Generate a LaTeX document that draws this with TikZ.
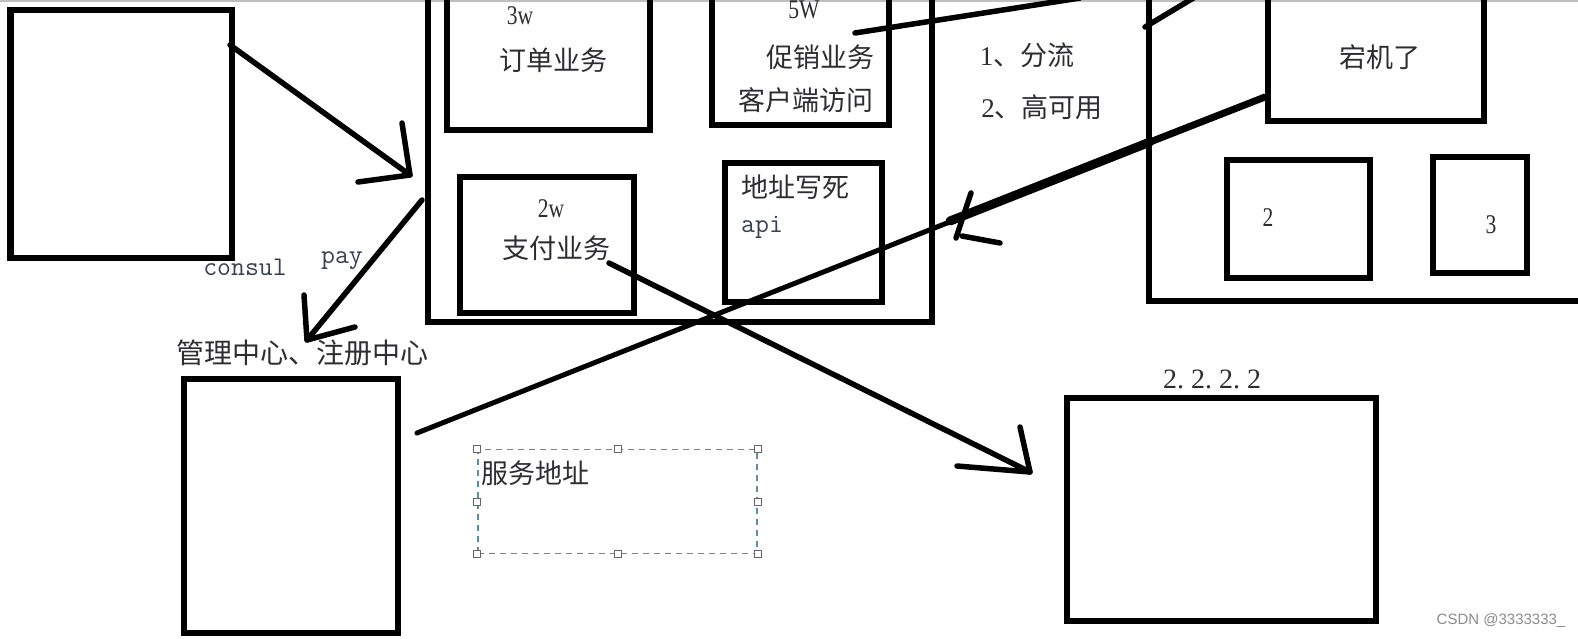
\documentclass[tikz,border=0pt]{standalone}
\usepackage{fontspec}
\setmainfont{Liberation Serif}
\newfontfamily\cjk{Noto Sans CJK SC}
\newfontfamily\wmfont{Liberation Sans}
\newfontfamily\narrowserif[FakeStretch=0.8]{Liberation Serif}
\definecolor{txt}{RGB}{45,45,50}
\definecolor{monotxt}{RGB}{55,65,80}
\definecolor{dashcol}{RGB}{95,140,165}
\begin{document}
\begin{tikzpicture}[x=1pt,y=-1pt,
  box/.style={draw=black, line width=6.5pt, inner sep=0pt, rectangle},
  pen/.style={draw=black, line width=5.5pt, line cap=round, line join=round},
  zh/.style={font=\cjk\fontsize{27}{30}\selectfont, text=txt, inner sep=0pt},
  lat/.style={font=\narrowserif\fontsize{27}{30}\selectfont, text=txt, inner sep=0pt, anchor=base},
  mono/.style={font=\ttfamily\fontsize{27}{30}\selectfont, text=monotxt, inner sep=0pt, anchor=base},
  handle/.style={draw=black!60, fill=white, line width=0.9pt}]
\useasboundingbox (0,0) rectangle (1578,638);
\clip (0,0) rectangle (1578,638);
\fill[white] (0,0) rectangle (1578,638);
\draw[black!25, line width=2pt] (0,1) -- (1578,1);

% boxes
\node[box, minimum width=221.5pt, minimum height=248pt] (boxA) at (121.25,134) {};
\node[box, minimum width=504pt, minimum height=352pt] (cont) at (680,146) {};
\node[box, minimum width=203pt, minimum height=160pt] (order) at (548.5,50) {};
\node[box, minimum width=177pt, minimum height=155pt] (promo) at (800.5,47.5) {};
\node[box, minimum width=174pt, minimum height=136pt] (paybox) at (547,245) {};
\node[box, minimum width=157pt, minimum height=139pt] (addr) at (803.5,232.5) {};
\node[box, minimum width=471pt, minimum height=331pt] (rc) at (1384.5,135.5) {};
\node[box, minimum width=216pt, minimum height=151pt] (down) at (1376,45.5) {};
\node[box, minimum width=143pt, minimum height=118pt] (b2) at (1298.5,219) {};
\node[box, minimum width=94pt, minimum height=116pt] (b3) at (1480,215) {};
\node[box, minimum width=214pt, minimum height=254pt] (mgmt) at (291,506) {};
\node[box, minimum width=309pt, minimum height=223pt] (ip) at (1221.5,509.5) {};
\node[draw=dashcol, dash pattern=on 6pt off 5pt, line width=1.3pt, inner sep=0pt,
      minimum width=279pt, minimum height=104pt] (svc) at (617.5,501.5) {};
\foreach \a in {north west,north,north east,east,south east,south,south west,west}
  \draw[handle] ([shift={(-3.5pt,-3.5pt)}]svc.\a) rectangle ++(7pt,7pt);

% texts
\node[lat] (t3w) at (520,24) {3w};
\node[lat] (t5w) at (804,18) {5W};
\node[zh] (tord) at (553,60) {订单业务};
\node[zh] (tpro) at (820,57) {促销业务};
\node[zh] (tcli) at (806,100) {客户端访问};
\node[lat] (t2w) at (551,217) {2w};
\node[zh] (tpay) at (556,248) {支付业务};
\node[zh, anchor=west] (tadr) at (741,187) {地址写死};
\node[mono, anchor=base west] (tapi) at (741,232) {api};
\node[zh] (tfl) at (1027,55) {{\rmfamily 1}、分流};
\node[zh] (tha) at (1042,107) {{\rmfamily 2}、高可用};
\node[zh] (tdown) at (1380,57) {宕机了};
\node[lat] (t2) at (1268,226) {2};
\node[lat] (t3) at (1491,233) {3};
\node[mono] (tcon) at (245,275) {consul};
\node[mono] (tpy) at (342,263) {pay};
\node[zh, font=\cjk\fontsize{28}{30}\selectfont] (tmg) at (302,353) {管理中心、注册中心};
\node[lat, font=\rmfamily\fontsize{28}{30}\selectfont] (tip) at (1212,388) {2.~2.~2.~2};
\node[zh, anchor=west] (tsvc) at (481,473) {服务地址};
\node[font=\wmfont\fontsize{15}{18}\selectfont, text=black!45, inner sep=0pt] (wm) at (1501,621) {CSDN @3333333\_};

% connector end points
\coordinate (a1s) at (230,45);
\coordinate (a1t) at (410,175);
\coordinate (a1h1) at (402,123);
\coordinate (a1h2) at (358,182);
\coordinate (a2s) at (422,200);
\coordinate (a2t) at (307,340);
\coordinate (a2h1) at (304,295);
\coordinate (a2h2) at (355,327);
\coordinate (l3s) at (417,433);
\coordinate (l3e) at (1265,97);
\coordinate (l3k) at (950,221);
\coordinate (l3m) at (1150,142);
\coordinate (l3h1) at (971,193);
\coordinate (l3h2) at (956,238);
\coordinate (l3h3) at (962,236);
\coordinate (l3h4) at (1000,243);
\coordinate (l4s) at (609,263);
\coordinate (l4t) at (1030,472);
\coordinate (l4h1) at (1020,427);
\coordinate (l4h2) at (957,466);
\coordinate (l5s) at (855,33);
\coordinate (l5e) at (1080,-2);
\coordinate (l6s) at (1145,27);
\coordinate (l6e) at (1195,-3);

% connectors
\draw[pen] (a1s) -- (a1t);
\draw[pen] (a1h1) -- (a1t) -- (a1h2);
\draw[pen] (a2s) -- (a2t);
\draw[pen] (a2h1) -- (a2t) -- (a2h2);
\draw[pen, line width=5pt] (l3s) -- (l3e);
\draw[pen, line width=9pt] (l3k) -- (l3m);
\draw[pen, line width=7pt] (l3m) -- (l3e);
\draw[pen] (l3h1) -- (l3h2);
\draw[pen] (l3h3) -- (l3h4);
\draw[pen] (l4s) -- (l4t);
\draw[pen] (l4h1) -- (l4t) -- (l4h2);
\draw[pen] (l5s) -- (l5e);
\draw[pen] (l6s) -- (l6e);
\end{tikzpicture}
\end{document}
